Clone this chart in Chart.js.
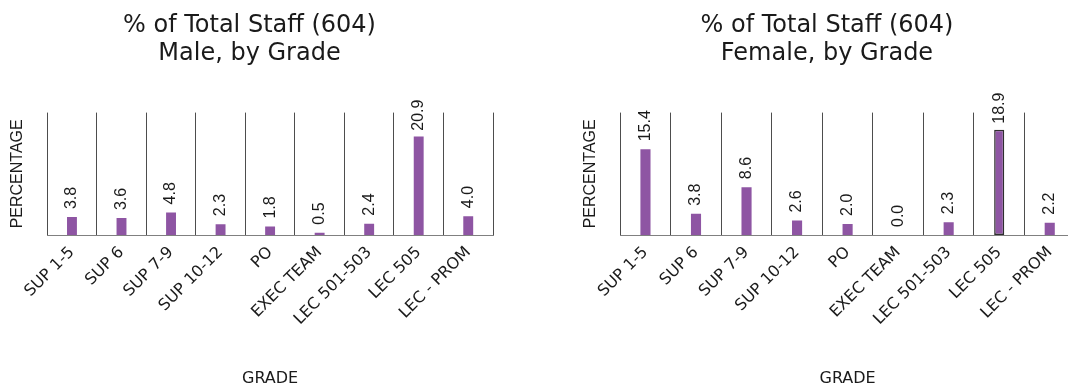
<!DOCTYPE html>
<html>
<head>
<meta charset="utf-8">
<script src="https://cdn.jsdelivr.net/npm/chart.js@4.4.0/dist/chart.umd.min.js"></script>
<style>
    html, body { margin: 0; padding: 0; background: #fff; overflow: hidden; width: 1068px; height: 388px; }
    #male { position: absolute; left: 0; top: 0; }
    #female { position: absolute; left: 573px; top: 0; }
</style>
</head>
<body>
<canvas id="male" width="514" height="388"></canvas>
<canvas id="female" width="518" height="388"></canvas>
<script>
const grades = ['SUP 1-5', 'SUP 6', 'SUP 7-9', 'SUP 10-12', 'PO', 'EXEC TEAM', 'LEC 501-503', 'LEC 505', 'LEC - PROM'];
const malePct = [3.8, 3.6, 4.8, 2.3, 1.8, 0.5, 2.4, 20.9, 4.0];
const femalePct = [15.4, 3.8, 8.6, 2.6, 2.0, 0.0, 2.3, 18.9, 2.2];
const maleTitle = ['% of Total Staff (604)', 'Male, by Grade'];
const femaleTitle = ['% of Total Staff (604)', 'Female, by Grade'];
const femaleHighlight = 'LEC 505';

const BAR_COLOR = '#8e55a3';
const TEXT_COLOR = '#1a1a1a';
const FONT = '"DejaVu Sans"';

// labels des valeurs, tournés à la verticale au-dessus des barres
const barValueLabels = {
    id: 'barValueLabels',
    afterDatasetsDraw(chart, args, opts) {
        const ctx = chart.ctx;
        const meta = chart.getDatasetMeta(0);
        const values = chart.data.datasets[0].data;
        const minTop = chart.chartArea.top - opts.overTop;
        ctx.save();
        ctx.font = '16px "Liberation Sans", Arial, sans-serif';
        ctx.fillStyle = TEXT_COLOR;
        ctx.textAlign = 'left';
        ctx.textBaseline = 'middle';
        meta.data.forEach((bar, i) => {
            const text = values[i].toFixed(1);
            const w = ctx.measureText(text).width;
            let start = bar.y - opts.gap;
            if (start - w < minTop) start = minTop + w;
            ctx.save();
            ctx.translate(bar.x, start);
            ctx.rotate(-Math.PI / 2);
            ctx.fillText(text, 0, 0);
            ctx.restore();
        });
        ctx.restore();
    }
};

function makeChart(id, titleLines, values, yMax, highlight, padRight, overTop) {
    const ctx = document.getElementById(id).getContext('2d');
    return new Chart(ctx, {
        type: 'bar',
        data: {
            labels: grades,
            datasets: [{
                data: values,
                backgroundColor: BAR_COLOR,
                borderColor: '#2e2e2e',
                borderWidth: grades.map(g => g === highlight ? 1.5 : 0),
                borderSkipped: false,
                barPercentage: 0.2,
                categoryPercentage: 1
            }]
        },
        options: {
            responsive: false,
            animation: false,
            layout: { padding: { left: 6, right: padRight, top: 0, bottom: 0 } },
            plugins: {
                legend: { display: false },
                tooltip: { enabled: false },
                title: {
                    display: true,
                    text: titleLines,
                    color: TEXT_COLOR,
                    font: { family: FONT, size: 24, weight: 'normal', lineHeight: 1.2 },
                    padding: { top: 11, bottom: 44 }
                },
                barValueLabels: { gap: 8, overTop: overTop }
            },
            scales: {
                x: {
                    grid: { display: true, offset: true, color: '#4d4d4d', drawTicks: false },
                    border: { display: true, color: '#808080', width: 1 },
                    ticks: {
                        autoSkip: false,
                        minRotation: 45,
                        maxRotation: 45,
                        padding: 8,
                        color: TEXT_COLOR,
                        font: { family: FONT, size: 16 }
                    },
                    title: {
                        display: true,
                        text: 'GRADE',
                        color: TEXT_COLOR,
                        font: { family: FONT, size: 16 },
                        padding: { top: 32, bottom: 0 }
                    }
                },
                y: {
                    min: 0,
                    max: yMax,
                    grid: { display: false },
                    border: { display: false },
                    ticks: { display: false },
                    title: {
                        display: true,
                        text: 'PERCENTAGE',
                        color: TEXT_COLOR,
                        font: { family: '"Liberation Sans"', size: 16 },
                        padding: { top: 2, bottom: 12 }
                    }
                }
            }
        },
        plugins: [barValueLabels]
    });
}

makeChart('male', maleTitle, malePct, 26, null, 21, 13);
makeChart('female', femaleTitle, femalePct, 22, femaleHighlight, 16, 20);
</script>
</body>
</html>
